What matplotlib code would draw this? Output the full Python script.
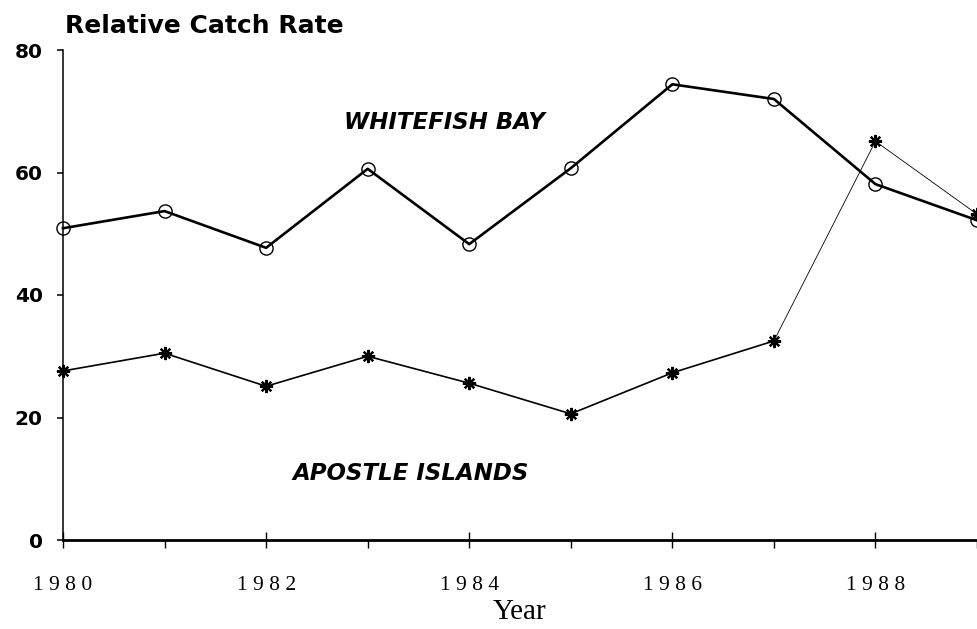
import matplotlib
matplotlib.use("Agg")
import matplotlib.pyplot as plt

# Relative catch rates by year for two Lake Superior sites
years = [1980, 1981, 1982, 1983, 1984, 1985, 1986, 1987, 1988, 1989]
whitefish_bay = [50.9, 53.7, 47.7, 60.6, 48.3, 60.7, 74.4, 72.0, 58.1, 52.2]
apostle_islands = [27.6, 30.5, 25.1, 30.0, 25.6, 20.6, 27.3, 32.5, 65.1, 53.2]

y_ticks = [0, 20, 40, 60, 80]
x_major = [1980, 1982, 1984, 1986, 1988]
x_minor = [1981, 1983, 1985, 1987, 1989]
x_labels = ["1 9 8 0", "1 9 8 2", "1 9 8 4", "1 9 8 6", "1 9 8 8"]

SANS = "DejaVu Sans"
SERIF = "Liberation Serif"

fig = plt.figure(figsize=(9.78, 6.29), dpi=100)
ax = fig.add_axes([63 / 978, 89 / 629, 914 / 978, 490 / 629])

# Whitefish Bay: heavy line with open circles
ax.plot(years, whitefish_bay, color="black", lw=1.9, marker="o", ms=9.5,
        mfc="none", mec="black", mew=1.0, clip_on=False, zorder=3)

# Apostle Islands: lighter line with asterisks; the late segments are fainter
ax.plot(years[:8], apostle_islands[:8], color="black", lw=1.2, zorder=2)
ax.plot(years[7:], apostle_islands[7:], color="black", lw=0.6, zorder=2)
ax.plot(years, apostle_islands, ls="none", marker=(8, 2, 0), ms=9.5,
        mec="black", mew=1.6, clip_on=False, zorder=4)

ax.set_xlim(1980, 1989)
ax.set_ylim(0, 80)

for side in ("top", "right"):
    ax.spines[side].set_visible(False)
ax.spines["bottom"].set_linewidth(2.0)
ax.spines["left"].set_linewidth(1.1)

ax.set_yticks(y_ticks)
ax.set_yticklabels([str(v) for v in y_ticks], fontfamily=SANS,
                   fontweight="heavy", fontsize=14.5)
ax.tick_params(axis="y", direction="out", length=4.5, width=1.1, pad=10)

ax.set_xticks(x_major)
ax.set_xticks(x_minor, minor=True)
ax.set_xticklabels(x_labels, fontfamily=SERIF, fontsize=15.5)
ax.tick_params(axis="x", which="major", direction="inout", length=12,
               width=1.0, pad=20)
ax.tick_params(axis="x", which="minor", direction="out", length=6, width=1.0)

ax.set_xlabel("Year", fontfamily=SERIF, fontsize=21, labelpad=3)

fig.text(65 / 978, 1 - 33 / 629, "Relative Catch Rate", fontfamily=SANS,
         fontweight="heavy", fontsize=18, ha="left", va="baseline")

ax.text(1982.77, 68.2, "WHITEFISH BAY", fontfamily=SANS, fontweight="heavy",
        fontstyle="italic", fontsize=16.5, ha="left", va="center")
ax.text(1982.26, 10.8, "APOSTLE ISLANDS", fontfamily=SANS, fontweight="heavy",
        fontstyle="italic", fontsize=16.5, ha="left", va="center")

fig.savefig("out.png", dpi=100)
